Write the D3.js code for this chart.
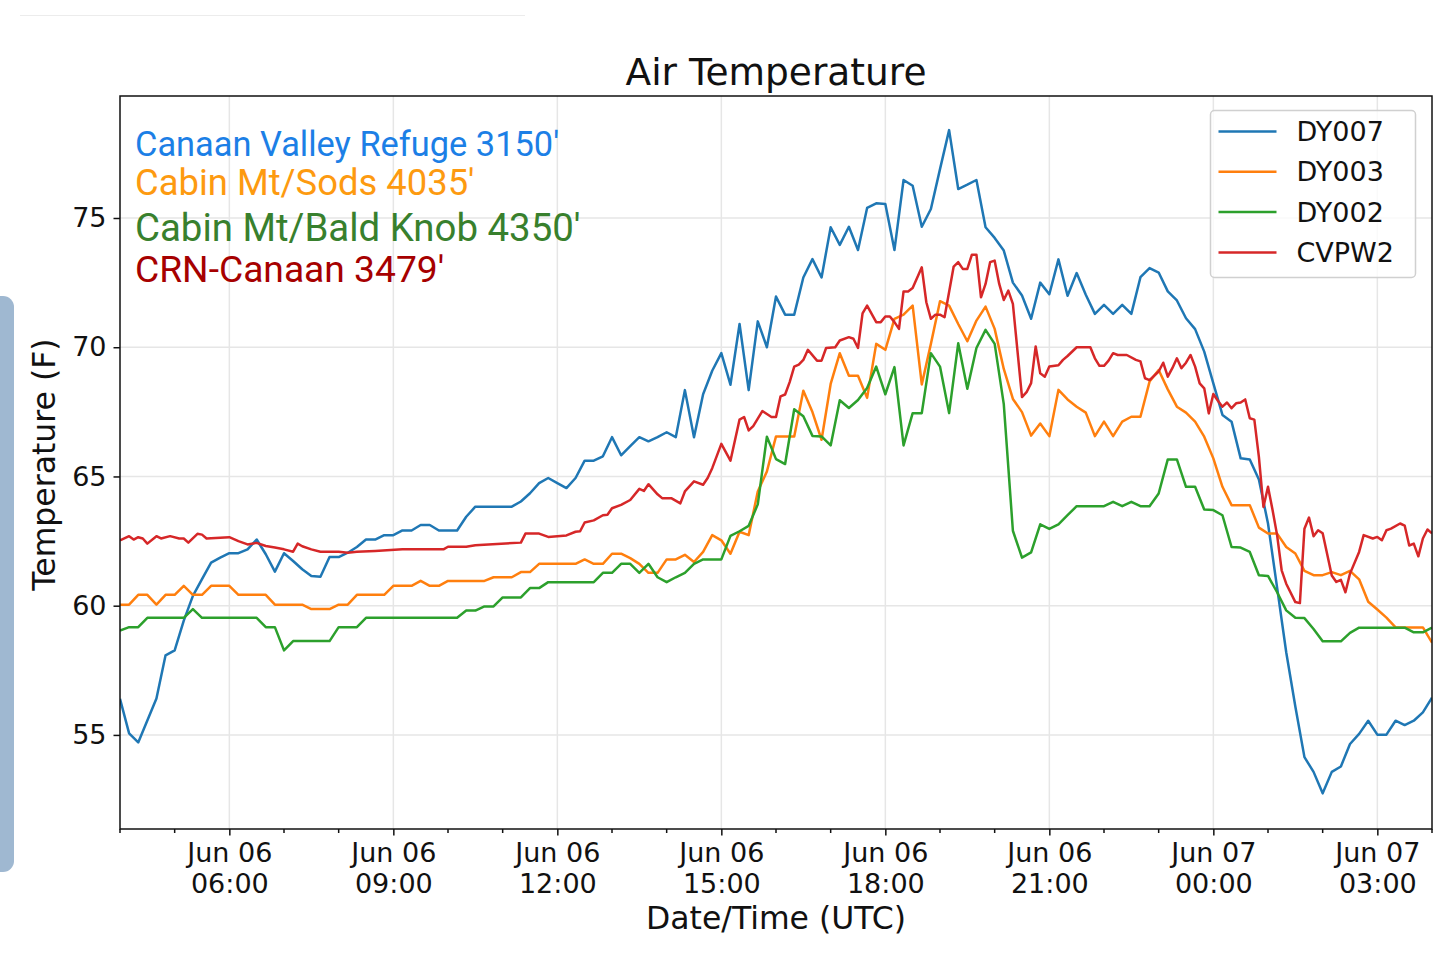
<!DOCTYPE html>
<html>
<head>
<meta charset="utf-8">
<script src="https://cdn.jsdelivr.net/npm/d3@7"></script>
<style>
  body { margin: 0; background: #fff; }
  svg { display: block; }
  text { font-family: "DejaVu Sans", sans-serif; fill: #111; }
  .axis path, .axis line { stroke: #111; stroke-width: 1.5; }
  .grid line { stroke: #e6e6e6; stroke-width: 1.5; }
  .line { fill: none; stroke-width: 2.5; stroke-linejoin: round; }
</style>
</head>
<body>
<script>
// Station data: ["day HH:MM" (UTC, June), temperature F]
var dy007 = [
  ["06 04:00", 56.4], ["06 04:10", 55.06], ["06 04:20", 54.71], ["06 04:40", 56.41],
  ["06 04:50", 58.08], ["06 05:00", 58.27], ["06 05:10", 59.42], ["06 05:20", 60.38],
  ["06 05:30", 61.03], ["06 05:40", 61.67], ["06 05:50", 61.86], ["06 06:00", 62.03],
  ["06 06:10", 62.03], ["06 06:20", 62.18], ["06 06:30", 62.56], ["06 06:40", 61.99],
  ["06 06:50", 61.32], ["06 07:00", 62.03], ["06 07:10", 61.73], ["06 07:20", 61.41],
  ["06 07:30", 61.15], ["06 07:40", 61.12], ["06 07:50", 61.88], ["06 08:00", 61.88],
  ["06 08:10", 62.05], ["06 08:20", 62.27], ["06 08:30", 62.56], ["06 08:40", 62.56],
  ["06 08:50", 62.73], ["06 09:00", 62.73], ["06 09:10", 62.91], ["06 09:20", 62.91],
  ["06 09:30", 63.12], ["06 09:40", 63.12], ["06 09:50", 62.91], ["06 10:10", 62.91],
  ["06 10:20", 63.44], ["06 10:30", 63.83], ["06 11:10", 63.83], ["06 11:20", 64.03],
  ["06 11:30", 64.35], ["06 11:40", 64.74], ["06 11:50", 64.94], ["06 12:00", 64.74],
  ["06 12:10", 64.55], ["06 12:20", 64.94], ["06 12:30", 65.61], ["06 12:40", 65.61],
  ["06 12:50", 65.78], ["06 13:00", 66.52], ["06 13:10", 65.82], ["06 13:20", 66.17],
  ["06 13:30", 66.52], ["06 13:40", 66.36], ["06 13:50", 66.52], ["06 14:00", 66.71],
  ["06 14:10", 66.52], ["06 14:20", 68.34], ["06 14:30", 66.52], ["06 14:40", 68.18],
  ["06 14:50", 69.09], ["06 15:00", 69.77], ["06 15:10", 68.55], ["06 15:20", 70.9],
  ["06 15:30", 68.34], ["06 15:40", 71.0], ["06 15:50", 70.0], ["06 16:00", 71.96],
  ["06 16:10", 71.26], ["06 16:20", 71.26], ["06 16:30", 72.7], ["06 16:40", 73.41],
  ["06 16:50", 72.7], ["06 17:00", 74.64], ["06 17:10", 73.96], ["06 17:20", 74.66],
  ["06 17:30", 73.76], ["06 17:40", 75.39], ["06 17:50", 75.57], ["06 18:00", 75.54],
  ["06 18:10", 73.76], ["06 18:20", 76.47], ["06 18:30", 76.25], ["06 18:40", 74.66],
  ["06 18:50", 75.35], ["06 19:00", 76.89], ["06 19:10", 78.4], ["06 19:20", 76.12],
  ["06 19:30", 76.29], ["06 19:40", 76.47], ["06 19:50", 74.64], ["06 20:00", 74.23],
  ["06 20:10", 73.74], ["06 20:20", 72.5], ["06 20:30", 72.0], ["06 20:40", 71.1],
  ["06 20:50", 72.5], ["06 21:00", 72.05], ["06 21:10", 73.4], ["06 21:20", 71.99],
  ["06 21:30", 72.87], ["06 21:40", 72.03], ["06 21:50", 71.29], ["06 22:00", 71.64],
  ["06 22:10", 71.29], ["06 22:20", 71.64], ["06 22:30", 71.29], ["06 22:40", 72.71],
  ["06 22:50", 73.06], ["06 23:00", 72.89], ["06 23:10", 72.16], ["06 23:20", 71.81],
  ["06 23:30", 71.12], ["06 23:40", 70.7], ["06 23:50", 69.83], ["07 00:00", 68.6],
  ["07 00:10", 67.38], ["07 00:20", 67.12], ["07 00:30", 65.7], ["07 00:40", 65.66],
  ["07 00:50", 64.88], ["07 01:00", 63.18], ["07 01:10", 60.7], ["07 01:20", 58.2],
  ["07 01:30", 56.1], ["07 01:40", 54.14], ["07 01:50", 53.57], ["07 02:00", 52.74],
  ["07 02:10", 53.57], ["07 02:20", 53.78], ["07 02:30", 54.65], ["07 02:40", 55.04],
  ["07 02:50", 55.55], ["07 03:00", 55.01], ["07 03:10", 55.01], ["07 03:20", 55.55],
  ["07 03:30", 55.38], ["07 03:40", 55.55], ["07 03:50", 55.87], ["07 04:00", 56.44]
];

var dy003 = [
  ["06 04:00", 60.04], ["06 04:10", 60.04], ["06 04:20", 60.42], ["06 04:30", 60.42],
  ["06 04:40", 60.04], ["06 04:50", 60.42], ["06 05:00", 60.42], ["06 05:10", 60.77],
  ["06 05:20", 60.42], ["06 05:30", 60.42], ["06 05:40", 60.77], ["06 06:00", 60.77],
  ["06 06:10", 60.42], ["06 06:40", 60.42], ["06 06:50", 60.04], ["06 07:20", 60.04],
  ["06 07:30", 59.87], ["06 07:50", 59.87], ["06 08:00", 60.04], ["06 08:10", 60.04],
  ["06 08:20", 60.42], ["06 08:50", 60.42], ["06 09:00", 60.77], ["06 09:20", 60.77],
  ["06 09:30", 60.96], ["06 09:40", 60.77], ["06 09:50", 60.77], ["06 10:00", 60.96],
  ["06 10:40", 60.96], ["06 10:50", 61.1], ["06 11:10", 61.1], ["06 11:20", 61.3],
  ["06 11:30", 61.3], ["06 11:40", 61.62], ["06 12:20", 61.62], ["06 12:30", 61.79],
  ["06 12:40", 61.62], ["06 12:50", 61.62], ["06 13:00", 62.01], ["06 13:10", 62.01],
  ["06 13:20", 61.84], ["06 13:30", 61.62], ["06 13:40", 61.27], ["06 13:50", 61.27],
  ["06 14:00", 61.79], ["06 14:10", 61.79], ["06 14:20", 61.97], ["06 14:30", 61.69],
  ["06 14:40", 62.08], ["06 14:50", 62.73], ["06 15:00", 62.53], ["06 15:10", 62.01],
  ["06 15:20", 62.86], ["06 15:30", 62.73], ["06 15:40", 64.42], ["06 15:50", 65.19],
  ["06 16:00", 66.55], ["06 16:20", 66.55], ["06 16:30", 68.32], ["06 16:40", 67.49],
  ["06 16:50", 66.42], ["06 17:00", 68.58], ["06 17:10", 69.77], ["06 17:20", 68.9],
  ["06 17:30", 68.9], ["06 17:40", 68.04], ["06 17:50", 70.13], ["06 18:00", 69.9],
  ["06 18:10", 71.1], ["06 18:20", 71.26], ["06 18:30", 71.61], ["06 18:40", 68.56],
  ["06 18:50", 70.13], ["06 19:00", 71.78], ["06 19:10", 71.61], ["06 19:20", 70.9],
  ["06 19:30", 70.23], ["06 19:40", 71.03], ["06 19:50", 71.57], ["06 20:00", 70.71],
  ["06 20:10", 69.16], ["06 20:20", 68.0], ["06 20:30", 67.49], ["06 20:40", 66.58],
  ["06 20:50", 67.05], ["06 21:00", 66.56], ["06 21:10", 68.35], ["06 21:20", 67.98],
  ["06 21:30", 67.7], ["06 21:40", 67.47], ["06 21:50", 66.56], ["06 22:00", 67.12],
  ["06 22:10", 66.56], ["06 22:20", 67.12], ["06 22:30", 67.31], ["06 22:40", 67.31],
  ["06 22:50", 68.67], ["06 23:00", 69.12], ["06 23:10", 68.37], ["06 23:20", 67.7],
  ["06 23:30", 67.47], ["06 23:40", 67.12], ["06 23:50", 66.54], ["07 00:00", 65.7],
  ["07 00:10", 64.6], ["07 00:20", 63.89], ["07 00:40", 63.89], ["07 00:50", 63.02],
  ["07 01:00", 62.79], ["07 01:10", 62.79], ["07 01:20", 62.27], ["07 01:30", 62.02],
  ["07 01:40", 61.35], ["07 01:50", 61.18], ["07 02:00", 61.18], ["07 02:10", 61.3],
  ["07 02:20", 61.18], ["07 02:30", 61.35], ["07 02:40", 61.02], ["07 02:50", 60.15],
  ["07 03:00", 59.85], ["07 03:10", 59.54], ["07 03:20", 59.16], ["07 03:50", 59.16],
  ["07 04:00", 58.57]
];

var dy002 = [
  ["06 04:00", 59.04], ["06 04:10", 59.17], ["06 04:20", 59.17], ["06 04:30", 59.53],
  ["06 05:10", 59.53], ["06 05:20", 59.87], ["06 05:30", 59.53], ["06 06:30", 59.53],
  ["06 06:40", 59.17], ["06 06:50", 59.17], ["06 07:00", 58.27], ["06 07:10", 58.63],
  ["06 07:50", 58.63], ["06 08:00", 59.17], ["06 08:20", 59.17], ["06 08:30", 59.53],
  ["06 10:10", 59.53], ["06 10:20", 59.81], ["06 10:30", 59.81], ["06 10:40", 59.97],
  ["06 10:50", 59.97], ["06 11:00", 60.32], ["06 11:20", 60.32], ["06 11:30", 60.68],
  ["06 11:40", 60.68], ["06 11:50", 60.91], ["06 12:40", 60.91], ["06 12:50", 61.27],
  ["06 13:00", 61.27], ["06 13:10", 61.62], ["06 13:20", 61.62], ["06 13:30", 61.27],
  ["06 13:40", 61.62], ["06 13:50", 61.1], ["06 14:00", 60.91], ["06 14:10", 61.1],
  ["06 14:20", 61.27], ["06 14:30", 61.62], ["06 14:40", 61.79], ["06 15:00", 61.79],
  ["06 15:10", 62.7], ["06 15:20", 62.88], ["06 15:30", 63.09], ["06 15:40", 63.92],
  ["06 15:50", 66.54], ["06 16:00", 65.67], ["06 16:10", 65.48], ["06 16:20", 67.6],
  ["06 16:30", 67.33], ["06 16:40", 66.57], ["06 16:50", 66.55], ["06 17:00", 66.2],
  ["06 17:10", 67.95], ["06 17:20", 67.65], ["06 17:30", 67.96], ["06 17:40", 68.42],
  ["06 17:50", 69.25], ["06 18:00", 68.18], ["06 18:10", 69.23], ["06 18:20", 66.2],
  ["06 18:30", 67.45], ["06 18:40", 67.45], ["06 18:50", 69.77], ["06 19:00", 69.25],
  ["06 19:10", 67.45], ["06 19:20", 70.15], ["06 19:30", 68.39], ["06 19:40", 69.97],
  ["06 19:50", 70.67], ["06 20:00", 70.13], ["06 20:10", 67.8], ["06 20:20", 62.9],
  ["06 20:30", 61.86], ["06 20:40", 62.06], ["06 20:50", 63.15], ["06 21:00", 62.97],
  ["06 21:10", 63.15], ["06 21:20", 63.5], ["06 21:30", 63.85], ["06 22:00", 63.85],
  ["06 22:10", 64.02], ["06 22:20", 63.85], ["06 22:30", 64.02], ["06 22:40", 63.85],
  ["06 22:50", 63.85], ["06 23:00", 64.34], ["06 23:10", 65.66], ["06 23:20", 65.66],
  ["06 23:30", 64.6], ["06 23:40", 64.6], ["06 23:50", 63.72], ["07 00:00", 63.7],
  ["07 00:10", 63.5], ["07 00:20", 62.27], ["07 00:30", 62.25], ["07 00:40", 62.08],
  ["07 00:50", 61.18], ["07 01:00", 61.15], ["07 01:10", 60.52], ["07 01:20", 59.82],
  ["07 01:30", 59.53], ["07 01:40", 59.52], ["07 01:50", 59.1], ["07 02:00", 58.62],
  ["07 02:20", 58.62], ["07 02:30", 58.95], ["07 02:40", 59.15], ["07 03:30", 59.15],
  ["07 03:40", 58.97], ["07 03:50", 58.97], ["07 04:00", 59.15]
];

var cvpw2 = [
  ["06 04:00", 62.53], ["06 04:10", 62.69], ["06 04:15", 62.56], ["06 04:20", 62.65],
  ["06 04:25", 62.6], ["06 04:30", 62.4], ["06 04:40", 62.69], ["06 04:45", 62.6],
  ["06 04:55", 62.69], ["06 05:05", 62.6], ["06 05:10", 62.6], ["06 05:15", 62.44],
  ["06 05:25", 62.78], ["06 05:30", 62.75], ["06 05:35", 62.6], ["06 05:50", 62.63],
  ["06 06:00", 62.65], ["06 06:10", 62.5], ["06 06:20", 62.37], ["06 06:30", 62.43],
  ["06 06:40", 62.31], ["06 06:50", 62.25], ["06 07:00", 62.18], ["06 07:10", 62.09],
  ["06 07:15", 62.4], ["06 07:20", 62.3], ["06 07:30", 62.18], ["06 07:40", 62.09],
  ["06 08:00", 62.09], ["06 08:10", 62.05], ["06 08:20", 62.09], ["06 08:40", 62.12],
  ["06 09:10", 62.18], ["06 09:55", 62.18], ["06 10:00", 62.28], ["06 10:20", 62.28],
  ["06 10:30", 62.34], ["06 11:20", 62.44], ["06 11:25", 62.79], ["06 11:40", 62.79],
  ["06 11:50", 62.66], ["06 12:10", 62.72], ["06 12:20", 62.86], ["06 12:25", 62.88],
  ["06 12:30", 63.22], ["06 12:40", 63.3], ["06 12:50", 63.5], ["06 12:55", 63.52],
  ["06 13:00", 63.77], ["06 13:10", 63.9], ["06 13:20", 64.09], ["06 13:30", 64.52],
  ["06 13:35", 64.44], ["06 13:40", 64.7], ["06 13:50", 64.31], ["06 13:55", 64.16],
  ["06 14:05", 64.16], ["06 14:15", 63.96], ["06 14:20", 64.42], ["06 14:30", 64.81],
  ["06 14:40", 64.68], ["06 14:45", 64.94], ["06 14:50", 65.32], ["06 15:00", 66.26],
  ["06 15:10", 65.61], ["06 15:20", 67.2], ["06 15:25", 67.3], ["06 15:30", 66.78],
  ["06 15:35", 66.95], ["06 15:45", 67.53], ["06 15:55", 67.3], ["06 16:00", 67.3],
  ["06 16:05", 68.1], ["06 16:10", 68.17], ["06 16:15", 68.65], ["06 16:20", 69.25],
  ["06 16:25", 69.33], ["06 16:30", 69.51], ["06 16:35", 69.9], ["06 16:45", 69.48],
  ["06 16:50", 69.48], ["06 16:55", 69.97], ["06 17:05", 70.0], ["06 17:10", 70.26],
  ["06 17:20", 70.39], ["06 17:25", 70.33], ["06 17:30", 69.97], ["06 17:35", 71.31],
  ["06 17:40", 71.61], ["06 17:50", 70.97], ["06 17:55", 70.97], ["06 18:00", 71.19],
  ["06 18:05", 71.19], ["06 18:10", 70.97], ["06 18:15", 70.71], ["06 18:20", 72.16],
  ["06 18:25", 72.16], ["06 18:30", 72.29], ["06 18:40", 73.09], ["06 18:45", 71.74],
  ["06 18:50", 71.1], ["06 18:55", 71.26], ["06 19:00", 71.26], ["06 19:05", 71.16],
  ["06 19:15", 73.12], ["06 19:20", 73.29], ["06 19:25", 73.03], ["06 19:30", 73.03],
  ["06 19:35", 73.58], ["06 19:40", 73.58], ["06 19:45", 71.93], ["06 19:50", 72.45],
  ["06 19:55", 73.29], ["06 20:00", 73.35], ["06 20:05", 72.45], ["06 20:10", 71.83],
  ["06 20:15", 72.19], ["06 20:20", 71.68], ["06 20:25", 69.87], ["06 20:30", 68.07],
  ["06 20:35", 68.26], ["06 20:40", 68.61], ["06 20:45", 70.03], ["06 20:50", 68.99],
  ["06 20:55", 68.86], ["06 21:00", 69.25], ["06 21:10", 69.3], ["06 21:15", 69.51],
  ["06 21:20", 69.66], ["06 21:30", 70.0], ["06 21:45", 70.0], ["06 21:50", 69.57],
  ["06 21:55", 69.28], ["06 22:00", 69.28], ["06 22:05", 69.48], ["06 22:10", 69.77],
  ["06 22:15", 69.7], ["06 22:25", 69.7], ["06 22:35", 69.51], ["06 22:40", 69.45],
  ["06 22:45", 68.8], ["06 22:50", 68.73], ["06 23:00", 69.06], ["06 23:05", 69.4],
  ["06 23:10", 68.86], ["06 23:15", 69.19], ["06 23:20", 69.57], ["06 23:25", 69.19],
  ["06 23:30", 69.4], ["06 23:35", 69.7], ["06 23:40", 69.25], ["06 23:45", 68.6],
  ["06 23:50", 68.41], ["06 23:55", 67.44], ["07 00:00", 68.19], ["07 00:05", 67.93],
  ["07 00:10", 67.7], ["07 00:15", 67.86], ["07 00:20", 67.64], ["07 00:25", 67.83],
  ["07 00:30", 67.86], ["07 00:35", 67.98], ["07 00:40", 67.25], ["07 00:45", 67.2],
  ["07 00:50", 65.76], ["07 00:55", 63.82], ["07 01:00", 64.6], ["07 01:05", 63.7],
  ["07 01:10", 62.73], ["07 01:15", 61.37], ["07 01:20", 60.85], ["07 01:30", 60.14],
  ["07 01:35", 60.1], ["07 01:40", 62.98], ["07 01:45", 63.41], ["07 01:50", 62.69],
  ["07 01:55", 62.92], ["07 02:00", 62.8], ["07 02:10", 61.17], ["07 02:15", 60.92],
  ["07 02:20", 61.0], ["07 02:25", 60.52], ["07 02:30", 61.24], ["07 02:40", 62.08],
  ["07 02:45", 62.73], ["07 02:55", 62.6], ["07 03:00", 62.66], ["07 03:05", 62.53],
  ["07 03:10", 62.92], ["07 03:15", 62.98], ["07 03:25", 63.18], ["07 03:30", 63.1],
  ["07 03:35", 62.33], ["07 03:40", 62.4], ["07 03:45", 61.91], ["07 03:50", 62.6],
  ["07 03:55", 62.95], ["07 04:00", 62.8]
];

// Legend names and the station notes in the upper left
var seriesNames = ["DY007", "DY003", "DY002", "CVPW2"];
var seriesColors = ["#1f77b4", "#ff7f0e", "#2ca02c", "#d62728"];
var stationNotes = [
  "Canaan Valley Refuge 3150'",
  "Cabin Mt/Sods 4035'",
  "Cabin Mt/Bald Knob 4350'",
  "CRN-Canaan 3479'"
];
var noteColors = ["#1c7fe6", "#fd9a10", "#38802d", "#a60000"];
var yTicks = [55, 60, 65, 70, 75];

// Set the dimensions of the canvas / graph
var margin = { top: 96, right: 8, bottom: 130, left: 120 },
  width = 1440 - margin.left - margin.right,
  height = 959 - margin.top - margin.bottom;

// Parse the date / time
var parseTime = d3.utcParse("%Y-%m-%d %H:%M");
function toDate(s) {
  return parseTime("2019-06-" + s);
}

var series = [dy007, dy003, dy002, cvpw2].map(function (rows, i) {
  return {
    name: seriesNames[i],
    color: seriesColors[i],
    values: rows.map(function (r) {
      return { date: toDate(r[0]), temp: r[1] };
    }),
  };
});

// Set the ranges
var x = d3
  .scaleUtc()
  .domain([toDate("06 04:00"), toDate("07 04:00")])
  .range([0, width]);
var y = d3.scaleLinear().domain([51.36, 79.72]).range([height, 0]);

var tempLine = d3
  .line()
  .x(function (d) {
    return x(d.date);
  })
  .y(function (d) {
    return y(d.temp);
  });

var svgRoot = d3
  .select("body")
  .append("svg")
  .attr("width", 1440)
  .attr("height", 959);

// screenshot leftovers: thin rule at the top, side tab on the left
svgRoot
  .append("line")
  .attr("x1", 20)
  .attr("x2", 525)
  .attr("y1", 15.5)
  .attr("y2", 15.5)
  .style("stroke", "#ececec")
  .style("stroke-width", 1.2);
svgRoot
  .append("rect")
  .attr("x", -12)
  .attr("y", 296)
  .attr("width", 26)
  .attr("height", 576)
  .attr("rx", 11)
  .style("fill", "#9fb8d1");

var svg = svgRoot
  .append("g")
  .attr("transform", "translate(" + margin.left + "," + margin.top + ")");

var majorTimes = d3.utcHour.every(3).range(x.domain()[0], x.domain()[1]);
var minorTimes = d3.utcHour.range(x.domain()[0], d3.utcHour.offset(x.domain()[1], 1));

// Grid lines
var grid = svg.append("g").attr("class", "grid");
grid
  .selectAll(".gx")
  .data(majorTimes)
  .enter()
  .append("line")
  .attr("x1", function (d) {
    return x(d);
  })
  .attr("x2", function (d) {
    return x(d);
  })
  .attr("y1", 0)
  .attr("y2", height);
grid
  .selectAll(".gy")
  .data(yTicks)
  .enter()
  .append("line")
  .attr("x1", 0)
  .attr("x2", width)
  .attr("y1", function (d) {
    return y(d);
  })
  .attr("y2", function (d) {
    return y(d);
  });

// Clip the lines to the plot box
svg
  .append("clipPath")
  .attr("id", "plotClip")
  .append("rect")
  .attr("width", width)
  .attr("height", height);

svg
  .append("g")
  .attr("clip-path", "url(#plotClip)")
  .selectAll(".line")
  .data(series)
  .enter()
  .append("path")
  .attr("class", "line")
  .style("stroke", function (d) {
    return d.color;
  })
  .attr("d", function (d) {
    return tempLine(d.values);
  });

// Add the X Axis (major ticks with two-line labels)
var fmtDay = d3.utcFormat("%b %d"),
  fmtHour = d3.utcFormat("%H:%M");
var xAxis = svg
  .append("g")
  .attr("class", "axis")
  .attr("transform", "translate(0," + height + ")")
  .call(d3.axisBottom(x).tickValues(majorTimes).tickSize(6.5).tickFormat(""));
xAxis.select(".domain").remove();
xAxis.selectAll(".tick text").each(function (d) {
  var t = d3.select(this).attr("y", null).attr("dy", null).style("font-size", "27px");
  t.append("tspan").attr("x", 0).attr("y", 32.5).text(fmtDay(d));
  t.append("tspan").attr("x", 0).attr("y", 64).text(fmtHour(d));
});

// minor hourly ticks
svg
  .append("g")
  .attr("class", "axis")
  .attr("transform", "translate(0," + height + ")")
  .selectAll("line")
  .data(
    minorTimes.filter(function (d) {
      return d.getUTCHours() % 3 !== 0;
    })
  )
  .enter()
  .append("line")
  .attr("x1", function (d) {
    return x(d);
  })
  .attr("x2", function (d) {
    return x(d);
  })
  .attr("y1", 0)
  .attr("y2", 4);

// Add the Y Axis
var yAxis = svg
  .append("g")
  .attr("class", "axis")
  .call(d3.axisLeft(y).tickValues(yTicks).tickSize(6.5).tickPadding(7));
yAxis.select(".domain").remove();
yAxis.selectAll(".tick text").style("font-size", "27px");

// Frame round the plot
svg
  .append("rect")
  .attr("width", width)
  .attr("height", height)
  .style("fill", "none")
  .style("stroke", "#111")
  .style("stroke-width", 1.5);

// Title and axis labels
svgRoot
  .append("text")
  .attr("x", margin.left + width / 2)
  .attr("y", 85)
  .attr("text-anchor", "middle")
  .style("font-size", "37.5px")
  .text("Air Temperature");
svgRoot
  .append("text")
  .attr("x", margin.left + width / 2)
  .attr("y", 929)
  .attr("text-anchor", "middle")
  .style("font-size", "31.5px")
  .text("Date/Time (UTC)");
svgRoot
  .append("text")
  .attr("transform", "translate(55," + (margin.top + height / 2 + 2) + ") rotate(-90)")
  .attr("text-anchor", "middle")
  .style("font-size", "31.5px")
  .text("Temperature (F)");

// Station notes (each line was typed at a slightly different size)
var noteSizes = [34.4, 36.4, 38.4, 37.2];
svg
  .selectAll(".note")
  .data(stationNotes)
  .enter()
  .append("text")
  .attr("class", "note")
  .attr("x", 15)
  .attr("y", function (d, i) {
    return [60, 99, 145, 186][i];
  })
  .style("font-family", "Roboto, sans-serif")
  .style("font-size", function (d, i) {
    return noteSizes[i] + "px";
  })
  .style("fill", function (d, i) {
    return noteColors[i];
  })
  .text(function (d) {
    return d;
  });

// Add the Legend
var legend = svg.append("g").attr("transform", "translate(" + (1210.5 - margin.left) + "," + (110.5 - margin.top) + ")");
legend
  .append("rect")
  .attr("width", 205)
  .attr("height", 167)
  .attr("rx", 4)
  .style("fill", "#fff")
  .style("fill-opacity", 0.8)
  .style("stroke", "#d0d0d0")
  .style("stroke-width", 1.5);
var legendRow = legend
  .selectAll(".legend")
  .data(series)
  .enter()
  .append("g")
  .attr("class", "legend")
  .attr("transform", function (d, i) {
    return "translate(0," + (21 + i * 40.3) + ")";
  });
legendRow
  .append("line")
  .attr("x1", 8)
  .attr("x2", 66)
  .style("stroke", function (d) {
    return d.color;
  })
  .style("stroke-width", 2.5);
legendRow
  .append("text")
  .attr("x", 86)
  .attr("dy", "0.35em")
  .style("font-size", "27px")
  .text(function (d) {
    return d.name;
  });
</script>
</body>
</html>
